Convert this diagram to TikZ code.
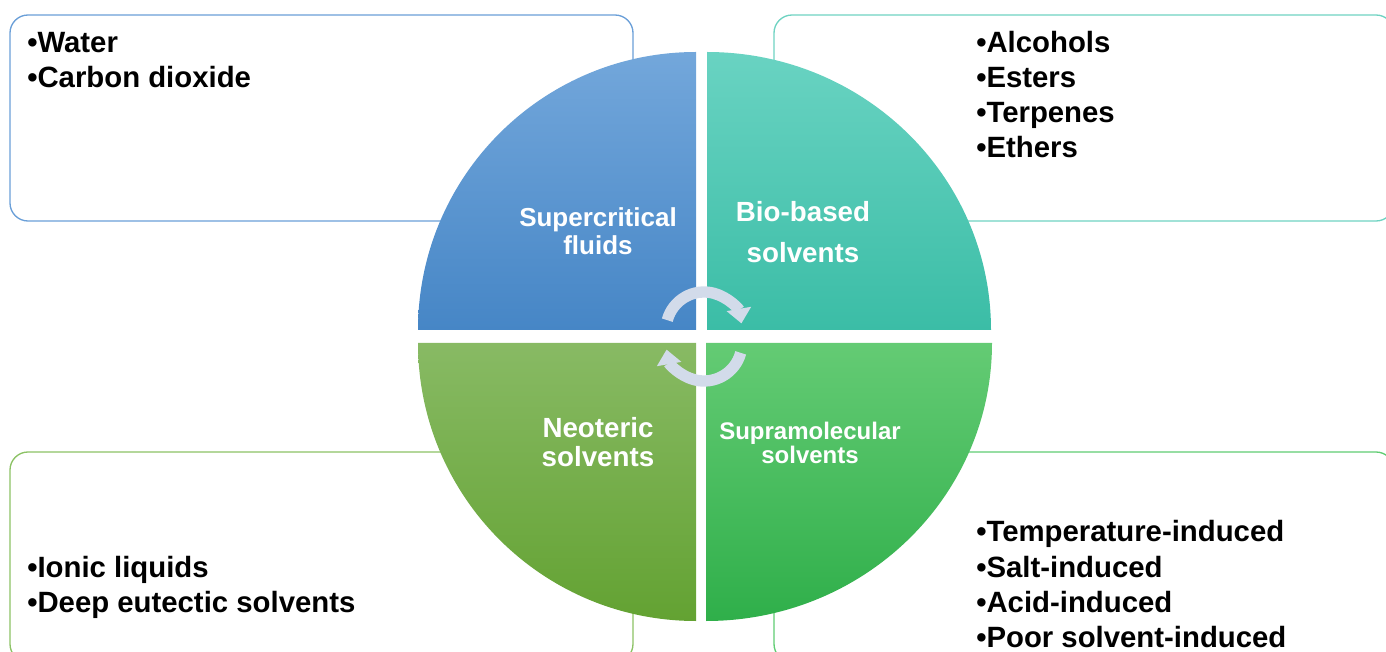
\documentclass[tikz,border=0pt]{standalone}
\usepackage{fontspec}
\setmainfont{Liberation Sans}
\usetikzlibrary{arrows.meta}
\definecolor{qTLtop}{HTML}{73A7DB}
\definecolor{qTLbot}{HTML}{4686C6}
\definecolor{qTRtop}{HTML}{69D3C2}
\definecolor{qTRbot}{HTML}{3BBDA6}
\definecolor{qBLtop}{HTML}{88BA64}
\definecolor{qBLbot}{HTML}{63A232}
\definecolor{qBRtop}{HTML}{64CB74}
\definecolor{qBRbot}{HTML}{2FAF4A}
\definecolor{boxTL}{HTML}{6A9FD8}
\definecolor{boxTR}{HTML}{6FD3C2}
\definecolor{boxBL}{HTML}{8CC265}
\definecolor{boxBR}{HTML}{60CD73}
\definecolor{arrowc}{HTML}{D2DBEA}
\tikzset{
  listbox/.style={line width=1pt, rounded corners=13.5pt, fill=white},
  item/.style={anchor=base west, inner sep=0pt, font=\fontsize{22}{26}\selectfont\bfseries, text=black},
  qlab/.style={align=center, inner sep=0pt, text=white},
  cyc/.style={line width=8.5pt, draw=arrowc, -{Triangle[width=18pt,length=11pt]}}
}
\begin{document}
\begin{tikzpicture}[x=0.75pt,y=-0.75pt]
\useasboundingbox (0,0) rectangle (1386,652);
% list boxes
\draw[listbox, draw=boxTL] (10,15) rectangle (633,221);
\draw[listbox, draw=boxTR] (774,15) rectangle (1394,221);
\draw[listbox, draw=boxBL] (10,452) rectangle (633,662);
\draw[listbox, draw=boxBR] (774,452) rectangle (1394,662);
% quadrants
\shade[top color=qTLtop, bottom color=qTLbot] (696,330) -- (418,330) arc[start angle=180, end angle=270, x radius=278, y radius=278] -- cycle;
\shade[top color=qTRtop, bottom color=qTRbot] (707,330) -- (707,52) arc[start angle=270, end angle=360, x radius=284, y radius=278] -- cycle;
\shade[top color=qBLtop, bottom color=qBLbot] (696,343) -- (696,621) arc[start angle=90, end angle=180, x radius=278, y radius=278] -- cycle;
\shade[top color=qBRtop, bottom color=qBRbot] (706,343) -- (992,343) arc[start angle=0, end angle=90, x radius=286, y radius=278] -- cycle;
% cycle arrows
\draw[cyc] (704,330) ++(195:38) arc[start angle=195, end angle=350, radius=38];
\draw[cyc] (704,343) ++(15:38) arc[start angle=15, end angle=170, radius=38];
% quadrant labels
\node[qlab, font=\fontsize{19.5}{21}\selectfont\bfseries] (sf) at (598,231) {Supercritical\\fluids};
\node[qlab, font=\fontsize{20.8}{30.75}\selectfont\bfseries] (bb) at (803,232) {Bio-based\\solvents};
\node[qlab, font=\fontsize{20.8}{21.75}\selectfont\bfseries] (ne) at (598,442) {Neoteric\\solvents};
\node[qlab, font=\fontsize{18}{18}\selectfont\bfseries] (sm) at (810,443) {Supramolecular\\solvents};
% lists
\node[item] (w) at (27,53) {•Water};
\node[item] (cd) at (27,88) {•Carbon dioxide};
\node[item] (al) at (976,53) {•Alcohols};
\node[item] (es) at (976,88) {•Esters};
\node[item] (te) at (976,123) {•Terpenes};
\node[item] (et) at (976,158) {•Ethers};
\node[item] (il) at (27,577) {•Ionic liquids};
\node[item] (de) at (27,612) {•Deep eutectic solvents};
\node[item] (ti) at (976,541) {•Temperature-induced};
\node[item] (si) at (976,577) {•Salt-induced};
\node[item] (ai) at (976,612) {•Acid-induced};
\node[item] (pi) at (976,647) {•Poor solvent-induced};
\end{tikzpicture}
\end{document}
